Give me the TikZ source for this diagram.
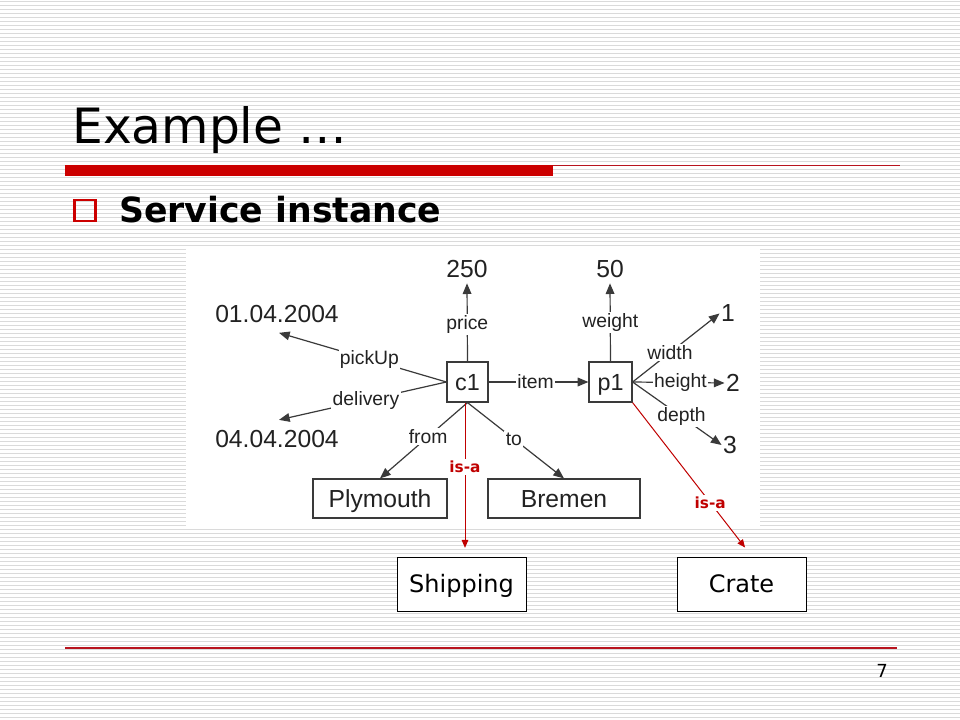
\documentclass[tikz,border=0pt]{standalone}
\usepackage{fontspec}
\setmainfont{DejaVu Sans}
\newfontfamily\arial{Liberation Sans}
\usetikzlibrary{arrows.meta,calc}
\definecolor{barred}{HTML}{CC0000}
\definecolor{linered}{HTML}{B8141E}
\definecolor{isared}{HTML}{C00000}
\definecolor{stripecol}{HTML}{DADADA}
\definecolor{dg}{HTML}{3A3A3A}
\definecolor{tx}{HTML}{222222}
\begin{document}
\begin{tikzpicture}[x=0.75pt,y=-0.75pt,
  edge/.style={draw=dg, line width=0.9pt, -{Triangle[length=8pt,width=6.5pt]}},
  lab/.style={fill=white, inner sep=1pt, text=tx, font=\arial\fontsize{14.5}{16}\selectfont},
  val/.style={inner sep=4pt, text=tx, font=\arial\fontsize{18.5}{20}\selectfont},
  num/.style={inner sep=1pt, text=tx, font=\arial\fontsize{18.5}{20}\selectfont},
  obj/.style={draw=dg, line width=0.9pt, fill=white, inner sep=0pt, text=tx, text height=12.5pt, text depth=0pt, font=\arial\fontsize{17.5}{20}\selectfont},
  bigobj/.style={obj, text height=13.25pt, font=\arial\fontsize{18.5}{20}\selectfont},
  isa/.style={draw=isared, line width=0.75pt, -{Triangle[length=6pt,width=5pt]}, shorten >=6.5pt},
  isalab/.style={fill=white, inner sep=1.5pt, text=isared, font=\bfseries\fontsize{11.5}{13}\selectfont},
  cls/.style={draw=black, line width=0.75pt, fill=white, inner sep=0pt, text height=13.1pt, text depth=0pt, font=\fontsize{18}{20}\selectfont, minimum width=129*0.75pt, minimum height=54*0.75pt}]
% page background with stripes
\fill[white] (0,0) rectangle (960,720);
\useasboundingbox (0,0) rectangle (960,720);
\foreach \k in {0,...,179} \draw[stripecol, line width=0.75pt] (0,4*\k+1.5) -- (960,4*\k+1.5);
% title area
\node[anchor=base west, inner sep=0pt, font=\fontsize{36.5}{40}\selectfont] (title) at (72,144) {Example …};
\fill[barred] (65,165) rectangle (553,176);
\draw[linered, line width=0.9pt] (553,165.5) -- (900,165.5);
\node[draw=barred, line width=2.2pt, minimum size=21*0.75pt, inner sep=0pt] (bullet) at (85,210.5) {};
\node[anchor=base west, inner sep=0pt, font=\bfseries\fontsize{26}{30}\selectfont] (sub) at (119,223) {Service instance};
% footer
\draw[linered, line width=0.9pt] (65,648) -- (897,648);
\node[anchor=base, inner sep=0pt, font=\fontsize{13.5}{15}\selectfont] (pg) at (882,677) {7};
% diagram image background
\fill[white] (186,246) rectangle (760,527);
% nodes
\node[obj, minimum width=41*0.75pt, minimum height=40*0.75pt] (c1) at (467.5,382) {c1};
\node[obj, minimum width=43*0.75pt, minimum height=40*0.75pt] (p1) at (610.5,382) {p1};
\node[bigobj, minimum width=134*0.75pt, minimum height=39*0.75pt] (ply) at (380,498.5) {Plymouth};
\node[bigobj, minimum width=152*0.75pt, minimum height=39*0.75pt] (bre) at (564,498.5) {Bremen};
\node[val] (v250) at (467,269) {250};
\node[val] (v50) at (610,269) {50};
\node[val] (d1) at (277,314.5) {01.04.2004};
\node[val] (d2) at (277,439) {04.04.2004};
\node[num] (n1) at (728,313.5) {1};
\node[num] (n2) at (733,383) {2};
\node[num] (n3) at (730,445) {3};
% connectors
\draw[edge] (c1.west) -- node[lab,pos=0.46]{pickUp} ([xshift=1.5pt,yshift=-3pt]d1.south);
\draw[edge] (c1.west) -- node[lab,pos=0.48]{delivery} ([xshift=1.5pt,yshift=3.6pt]d2.north);
\draw[edge] (c1.north) -- node[lab,pos=0.47]{price} (v250.south);
\draw[edge] (p1.north) -- node[lab,pos=0.5]{weight} (v50.south);
\draw[edge] (c1.east) -- node[lab,pos=0.47]{item} (p1.west);
\draw[edge] (c1.south) -- node[lab,pos=0.45]{from} (ply.north);
\draw[edge] (c1.south) -- node[lab,pos=0.48]{to} (bre.north);
\draw[edge] (p1.east) -- node[lab,pos=0.43]{width} (n1.west);
\draw[edge] (p1.east) -- node[lab,pos=0.52]{height} (n2.west);
\draw[edge] (p1.east) -- node[lab,pos=0.55]{depth} (n3.west);
% classes
\node[cls] (ship) at (461.5,584) {Shipping};
\node[cls] (crate) at (741.5,584) {Crate};
\coordinate (isatop) at ($(c1.south)+(-2.5,0)$);
\draw[isa] (isatop) -- node[isalab,pos=0.42]{is-a} (isatop |- ship.north);
\draw[isa, shorten >=8.5pt] (p1.south east) -- node[isalab,pos=0.65]{is-a} ([xshift=7.9pt]crate.north);
\end{tikzpicture}
\end{document}
